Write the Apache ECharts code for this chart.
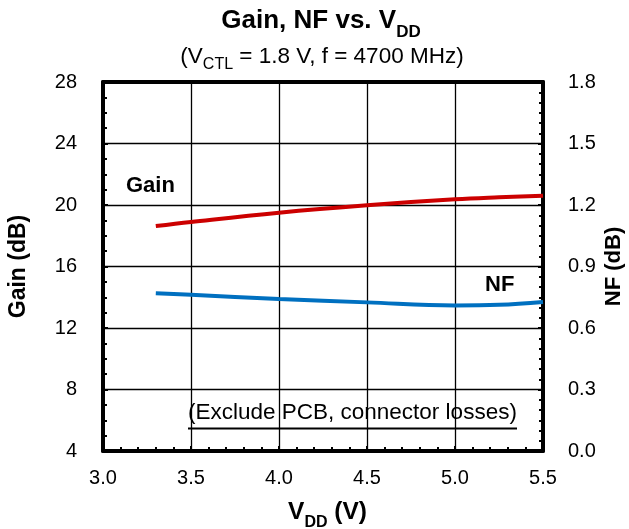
<!DOCTYPE html>
<html>
<head>
<meta charset="utf-8">
<script src="https://cdn.jsdelivr.net/npm/echarts@6/dist/echarts.min.js"></script>
<style>
html,body{margin:0;padding:0;background:#fff;}
#c{width:629px;height:529px;}
</style>
</head>
<body>
<div id="c"></div>
<script>
var vddValues = [3.3, 3.5, 4.0, 4.5, 5.0, 5.25, 5.5];
var gainValues = [18.63, 18.9, 19.5, 19.98, 20.37, 20.5, 20.6];
var nfValues = [0.770, 0.762, 0.742, 0.725, 0.710, 0.713, 0.727];
var xTicks = {min: 3.0, max: 5.5, interval: 0.5};
var gainTicks = {min: 4, max: 28, interval: 4};
var nfTicks = {min: 0, max: 1.8, interval: 0.3};

var FONT = '"Liberation Sans", Arial, sans-serif';
var chart = echarts.init(document.getElementById('c'), null, {renderer: 'canvas'});

function pairs(xs, ys) { return xs.map(function (x, i) { return [x, ys[i]]; }); }

var frame = {show: true, lineStyle: {color: '#000', width: 4}};
var grid = {show: true, lineStyle: {color: '#000', width: 1.3}};

var option = {
  backgroundColor: '#fff',
  animation: false,
  textStyle: {fontFamily: FONT},
  grid: {left: 103, right: 86, top: 82, bottom: 78, containLabel: false, outerBoundsMode: 'none'},
  xAxis: [{
    type: 'value', position: 'bottom',
    min: xTicks.min, max: xTicks.max, interval: xTicks.interval,
    axisLine: frame,
    axisTick: {show: true, inside: true, length: 5, lineStyle: {color: '#000', width: 2}},
    minorTick: {show: true, splitNumber: 5, length: 4, lineStyle: {color: '#000', width: 2}},
    splitLine: grid,
    axisLabel: {color: '#000', fontSize: 20, fontFamily: FONT, margin: 17,
      formatter: function (v) { return v.toFixed(1); }},
    name: '{m|V}{s|DD}{m| (V)}', nameLocation: 'middle', nameGap: 49, nameMoveOverlap: false,
    nameTextStyle: {padding: [0, 0, 0, 9], rich: {
      m: {fontSize: 24.5, fontWeight: 'bold', fontFamily: FONT, color: '#000', lineHeight: 26, verticalAlign: 'top'},
      s: {fontSize: 16, fontWeight: 'bold', fontFamily: FONT, color: '#000', lineHeight: 16, verticalAlign: 'top', padding: [15, 0, 0, 0]}
    }}
  }, {
    type: 'value', position: 'top',
    min: xTicks.min, max: xTicks.max, interval: xTicks.interval,
    axisLine: frame, axisTick: {show: false}, axisLabel: {show: false}, splitLine: {show: false}
  }],
  yAxis: [{
    type: 'value', position: 'left',
    min: gainTicks.min, max: gainTicks.max, interval: gainTicks.interval,
    axisLine: frame,
    axisTick: {show: true, inside: true, length: 5, lineStyle: {color: '#000', width: 2}},
    minorTick: {show: true, splitNumber: 4, length: 4, lineStyle: {color: '#000', width: 2}},
    splitLine: grid,
    axisLabel: {color: '#000', fontSize: 20, fontFamily: FONT, margin: 26},
    name: 'Gain (dB)', nameLocation: 'middle', nameRotate: 90, nameGap: 73, nameMoveOverlap: false,
    nameTextStyle: {fontSize: 23, fontWeight: 'bold', fontFamily: FONT, color: '#000'}
  }, {
    type: 'value', position: 'right',
    min: nfTicks.min, max: nfTicks.max, interval: nfTicks.interval,
    axisLine: frame,
    axisTick: {show: true, inside: true, length: 5, lineStyle: {color: '#000', width: 2}},
    minorTick: {show: true, splitNumber: 6, length: 4, lineStyle: {color: '#000', width: 2}},
    splitLine: {show: false},
    axisLabel: {color: '#000', fontSize: 20, fontFamily: FONT, margin: 25,
      formatter: function (v) { return v.toFixed(1); }},
    name: 'NF (dB)', nameLocation: 'middle', nameRotate: 90, nameGap: 60, nameMoveOverlap: false,
    nameTextStyle: {fontSize: 22, fontWeight: 'bold', fontFamily: FONT, color: '#000'}
  }],
  series: [{
    name: 'Gain', type: 'line', xAxisIndex: 0, yAxisIndex: 0,
    data: pairs(vddValues, gainValues), smooth: 0.4, showSymbol: false, symbol: 'none',
    lineStyle: {color: '#CC0000', width: 4}, z: 5
  }, {
    name: 'NF', type: 'line', xAxisIndex: 0, yAxisIndex: 1,
    data: pairs(vddValues, nfValues), smooth: 0.4, showSymbol: false, symbol: 'none',
    lineStyle: {color: '#0070C0', width: 4}, z: 5
  }],
  graphic: [
    {type: 'text', x: 321, y: 8, style: {
      text: '{m|Gain, NF vs. V}{s|DD}', textAlign: 'center', textVerticalAlign: 'top',
      rich: {
        m: {fontSize: 26, fontWeight: 'bold', fontFamily: FONT, fill: '#000', lineHeight: 26, verticalAlign: 'top'},
        s: {fontSize: 17, fontWeight: 'bold', fontFamily: FONT, fill: '#000', lineHeight: 17, verticalAlign: 'top', padding: [16, 0, 0, 0]}
      }}},
    {type: 'text', x: 322, y: 45, style: {
      text: '{m|(V}{s|CTL}{m| = 1.8 V, f = 4700 MHz)}', textAlign: 'center', textVerticalAlign: 'top',
      rich: {
        m: {fontSize: 22.5, fontFamily: FONT, fill: '#000', lineHeight: 24, verticalAlign: 'top'},
        s: {fontSize: 16, fontFamily: FONT, fill: '#000', lineHeight: 16, verticalAlign: 'top', padding: [12, 0, 0, 0]}
      }}},
    {type: 'text', x: 126, y: 185.5, style: {text: 'Gain', fontSize: 22, fontWeight: 'bold', fontFamily: FONT, fill: '#000', textAlign: 'left', textVerticalAlign: 'middle'}},
    {type: 'text', x: 485, y: 284.5, style: {text: 'NF', fontSize: 22, fontWeight: 'bold', fontFamily: FONT, fill: '#000', textAlign: 'left', textVerticalAlign: 'middle'}},
    {type: 'text', x: 188, y: 413, style: {text: '(Exclude PCB, connector losses)', fontSize: 22.5, fontFamily: FONT, fill: '#000', textAlign: 'left', textVerticalAlign: 'middle'}},
    {type: 'line', shape: {x1: 188, y1: 428.5, x2: 517, y2: 428.5}, style: {stroke: '#000', lineWidth: 2}}
  ]
};
chart.setOption(option);
</script>
</body>
</html>
